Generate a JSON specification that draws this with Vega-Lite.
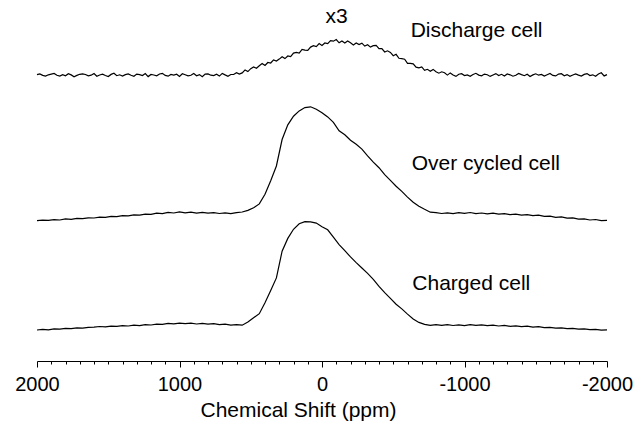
{
"$schema": "https://vega.github.io/schema/vega-lite/v6.json",
"width": 570, "height": 361,
"autosize": {"type": "none"},
"padding": {"left": 37, "top": 0, "right": 27, "bottom": 64},
"background": "white",
"config": {"view": {"stroke": null}, "font": "Liberation Sans"},
"layer": [
{
"data": {"values": [
{"cell":"D","ppm":2000,"v":286.3},{"cell":"D","ppm":1980,"v":287.1},{"cell":"D","ppm":1960,"v":285.6},{"cell":"D","ppm":1940,"v":284.9},{"cell":"D","ppm":1920,"v":286.2},{"cell":"D","ppm":1900,"v":286.9},{"cell":"D","ppm":1880,"v":287.6},{"cell":"D","ppm":1860,"v":285.7},{"cell":"D","ppm":1840,"v":284.9},{"cell":"D","ppm":1820,"v":286.4},
{"cell":"D","ppm":1800,"v":285.2},{"cell":"D","ppm":1780,"v":287.3},{"cell":"D","ppm":1760,"v":286.1},{"cell":"D","ppm":1740,"v":284.3},{"cell":"D","ppm":1720,"v":285.6},{"cell":"D","ppm":1700,"v":286.7},{"cell":"D","ppm":1680,"v":287.2},{"cell":"D","ppm":1660,"v":286.5},{"cell":"D","ppm":1640,"v":285.1},{"cell":"D","ppm":1620,"v":285.8},
{"cell":"D","ppm":1600,"v":287.5},{"cell":"D","ppm":1580,"v":284.8},{"cell":"D","ppm":1560,"v":286.0},{"cell":"D","ppm":1540,"v":286.8},{"cell":"D","ppm":1520,"v":285.5},{"cell":"D","ppm":1500,"v":284.5},{"cell":"D","ppm":1480,"v":286.6},{"cell":"D","ppm":1460,"v":287.8},{"cell":"D","ppm":1440,"v":285.3},{"cell":"D","ppm":1420,"v":286.2},
{"cell":"D","ppm":1400,"v":285.0},{"cell":"D","ppm":1380,"v":286.4},{"cell":"D","ppm":1360,"v":287.1},{"cell":"D","ppm":1340,"v":285.7},{"cell":"D","ppm":1320,"v":284.7},{"cell":"D","ppm":1300,"v":286.9},{"cell":"D","ppm":1280,"v":286.3},{"cell":"D","ppm":1260,"v":285.4},{"cell":"D","ppm":1240,"v":287.4},{"cell":"D","ppm":1220,"v":284.4},
{"cell":"D","ppm":1200,"v":286.5},{"cell":"D","ppm":1180,"v":286.0},{"cell":"D","ppm":1160,"v":285.2},{"cell":"D","ppm":1140,"v":287.0},{"cell":"D","ppm":1120,"v":287.7},{"cell":"D","ppm":1100,"v":285.6},{"cell":"D","ppm":1080,"v":284.8},{"cell":"D","ppm":1060,"v":286.6},{"cell":"D","ppm":1040,"v":285.9},{"cell":"D","ppm":1020,"v":286.8},
{"cell":"D","ppm":1000,"v":284.6},{"cell":"D","ppm":980,"v":287.2},{"cell":"D","ppm":960,"v":286.2},{"cell":"D","ppm":940,"v":285.1},{"cell":"D","ppm":920,"v":285.7},{"cell":"D","ppm":900,"v":287.5},{"cell":"D","ppm":880,"v":285.3},{"cell":"D","ppm":860,"v":286.4},{"cell":"D","ppm":840,"v":284.2},{"cell":"D","ppm":820,"v":286.9},
{"cell":"D","ppm":800,"v":287.1},{"cell":"D","ppm":780,"v":285.8},{"cell":"D","ppm":760,"v":285.4},{"cell":"D","ppm":740,"v":286.7},{"cell":"D","ppm":720,"v":284.9},{"cell":"D","ppm":700,"v":287.6},{"cell":"D","ppm":680,"v":286.1},{"cell":"D","ppm":660,"v":284.7},{"cell":"D","ppm":640,"v":286.5},{"cell":"D","ppm":620,"v":286.5},
{"cell":"D","ppm":600,"v":288.3},{"cell":"D","ppm":580,"v":286.9},{"cell":"D","ppm":560,"v":288.1},{"cell":"D","ppm":540,"v":291.1},{"cell":"D","ppm":520,"v":289.4},{"cell":"D","ppm":500,"v":292.3},{"cell":"D","ppm":480,"v":294.0},{"cell":"D","ppm":460,"v":292.7},{"cell":"D","ppm":440,"v":295.3},{"cell":"D","ppm":420,"v":297.4},
{"cell":"D","ppm":400,"v":295.5},{"cell":"D","ppm":380,"v":298.5},{"cell":"D","ppm":360,"v":298.0},{"cell":"D","ppm":340,"v":301.1},{"cell":"D","ppm":320,"v":299.9},{"cell":"D","ppm":300,"v":301.9},{"cell":"D","ppm":280,"v":304.3},{"cell":"D","ppm":260,"v":302.4},{"cell":"D","ppm":240,"v":305.0},{"cell":"D","ppm":220,"v":304.3},
{"cell":"D","ppm":200,"v":307.9},{"cell":"D","ppm":180,"v":308.6},{"cell":"D","ppm":160,"v":308.0},{"cell":"D","ppm":140,"v":311.6},{"cell":"D","ppm":120,"v":310.8},{"cell":"D","ppm":100,"v":310.6},{"cell":"D","ppm":80,"v":313.9},{"cell":"D","ppm":60,"v":315.3},{"cell":"D","ppm":40,"v":314.4},{"cell":"D","ppm":20,"v":317.5},
{"cell":"D","ppm":0,"v":315.6},{"cell":"D","ppm":-20,"v":318.0},{"cell":"D","ppm":-40,"v":317.3},{"cell":"D","ppm":-60,"v":320.4},{"cell":"D","ppm":-80,"v":319.8},{"cell":"D","ppm":-100,"v":321.4},{"cell":"D","ppm":-120,"v":318.2},{"cell":"D","ppm":-140,"v":320.0},{"cell":"D","ppm":-160,"v":317.9},{"cell":"D","ppm":-180,"v":320.0},
{"cell":"D","ppm":-200,"v":318.2},{"cell":"D","ppm":-220,"v":316.0},{"cell":"D","ppm":-240,"v":318.1},{"cell":"D","ppm":-260,"v":316.4},{"cell":"D","ppm":-280,"v":317.8},{"cell":"D","ppm":-300,"v":314.9},{"cell":"D","ppm":-320,"v":316.2},{"cell":"D","ppm":-340,"v":313.9},{"cell":"D","ppm":-360,"v":315.3},{"cell":"D","ppm":-380,"v":315.6},
{"cell":"D","ppm":-400,"v":312.4},{"cell":"D","ppm":-420,"v":312.3},{"cell":"D","ppm":-440,"v":309.0},{"cell":"D","ppm":-460,"v":310.2},{"cell":"D","ppm":-480,"v":308.6},{"cell":"D","ppm":-500,"v":305.3},{"cell":"D","ppm":-520,"v":306.7},{"cell":"D","ppm":-540,"v":302.7},{"cell":"D","ppm":-560,"v":302.4},{"cell":"D","ppm":-580,"v":301.8},
{"cell":"D","ppm":-600,"v":297.6},{"cell":"D","ppm":-620,"v":297.7},{"cell":"D","ppm":-640,"v":297.1},{"cell":"D","ppm":-660,"v":293.8},{"cell":"D","ppm":-680,"v":293.1},{"cell":"D","ppm":-700,"v":294.1},{"cell":"D","ppm":-720,"v":290.6},{"cell":"D","ppm":-740,"v":291.7},{"cell":"D","ppm":-760,"v":289.8},{"cell":"D","ppm":-780,"v":291.6},
{"cell":"D","ppm":-800,"v":289.2},{"cell":"D","ppm":-820,"v":287.8},{"cell":"D","ppm":-840,"v":289.2},{"cell":"D","ppm":-860,"v":288.2},{"cell":"D","ppm":-880,"v":285.9},{"cell":"D","ppm":-900,"v":288.1},{"cell":"D","ppm":-920,"v":286.0},{"cell":"D","ppm":-940,"v":284.6},{"cell":"D","ppm":-960,"v":286.8},{"cell":"D","ppm":-980,"v":287.3},
{"cell":"D","ppm":-1000,"v":285.4},{"cell":"D","ppm":-1020,"v":286.1},{"cell":"D","ppm":-1040,"v":284.7},{"cell":"D","ppm":-1060,"v":286.5},{"cell":"D","ppm":-1080,"v":287.7},{"cell":"D","ppm":-1100,"v":285.9},{"cell":"D","ppm":-1120,"v":285.2},{"cell":"D","ppm":-1140,"v":286.9},{"cell":"D","ppm":-1160,"v":286.3},{"cell":"D","ppm":-1180,"v":284.6},
{"cell":"D","ppm":-1200,"v":286.0},{"cell":"D","ppm":-1220,"v":287.4},{"cell":"D","ppm":-1240,"v":285.5},{"cell":"D","ppm":-1260,"v":286.7},{"cell":"D","ppm":-1280,"v":285.0},{"cell":"D","ppm":-1300,"v":287.0},{"cell":"D","ppm":-1320,"v":286.2},{"cell":"D","ppm":-1340,"v":284.8},{"cell":"D","ppm":-1360,"v":285.7},{"cell":"D","ppm":-1380,"v":287.6},
{"cell":"D","ppm":-1400,"v":286.4},{"cell":"D","ppm":-1420,"v":285.3},{"cell":"D","ppm":-1440,"v":286.8},{"cell":"D","ppm":-1460,"v":284.5},{"cell":"D","ppm":-1480,"v":286.1},{"cell":"D","ppm":-1500,"v":287.2},{"cell":"D","ppm":-1520,"v":285.8},{"cell":"D","ppm":-1540,"v":286.6},{"cell":"D","ppm":-1560,"v":284.9},{"cell":"D","ppm":-1580,"v":286.3},
{"cell":"D","ppm":-1600,"v":287.5},{"cell":"D","ppm":-1620,"v":285.6},{"cell":"D","ppm":-1640,"v":285.1},{"cell":"D","ppm":-1660,"v":286.9},{"cell":"D","ppm":-1680,"v":287.3},{"cell":"D","ppm":-1700,"v":285.2},{"cell":"D","ppm":-1720,"v":286.4},{"cell":"D","ppm":-1740,"v":284.7},{"cell":"D","ppm":-1760,"v":286.0},{"cell":"D","ppm":-1780,"v":287.1},
{"cell":"D","ppm":-1800,"v":285.9},{"cell":"D","ppm":-1820,"v":285.0},{"cell":"D","ppm":-1840,"v":286.6},{"cell":"D","ppm":-1860,"v":287.4},{"cell":"D","ppm":-1880,"v":285.4},{"cell":"D","ppm":-1900,"v":286.2},{"cell":"D","ppm":-1920,"v":284.8},{"cell":"D","ppm":-1940,"v":287.0},{"cell":"D","ppm":-1960,"v":288.2},{"cell":"D","ppm":-1980,"v":285.1},{"cell":"D","ppm":-2000,"v":286.4},
{"cell":"O","ppm":2000,"v":140.3},{"cell":"O","ppm":1960,"v":140.9},{"cell":"O","ppm":1920,"v":140.6},{"cell":"O","ppm":1880,"v":141.4},{"cell":"O","ppm":1840,"v":141.0},{"cell":"O","ppm":1800,"v":142.1},{"cell":"O","ppm":1760,"v":141.7},{"cell":"O","ppm":1720,"v":142.6},{"cell":"O","ppm":1680,"v":142.3},{"cell":"O","ppm":1640,"v":143.2},
{"cell":"O","ppm":1600,"v":143.0},{"cell":"O","ppm":1560,"v":143.9},{"cell":"O","ppm":1520,"v":143.6},{"cell":"O","ppm":1480,"v":144.7},{"cell":"O","ppm":1440,"v":144.3},{"cell":"O","ppm":1400,"v":145.4},{"cell":"O","ppm":1360,"v":145.2},{"cell":"O","ppm":1320,"v":146.1},{"cell":"O","ppm":1280,"v":145.8},{"cell":"O","ppm":1240,"v":146.9},
{"cell":"O","ppm":1200,"v":146.6},{"cell":"O","ppm":1160,"v":147.8},{"cell":"O","ppm":1120,"v":147.4},{"cell":"O","ppm":1080,"v":148.6},{"cell":"O","ppm":1040,"v":148.0},{"cell":"O","ppm":1000,"v":149.1},{"cell":"O","ppm":960,"v":148.2},{"cell":"O","ppm":920,"v":148.9},{"cell":"O","ppm":880,"v":147.8},{"cell":"O","ppm":840,"v":148.7},
{"cell":"O","ppm":800,"v":147.9},{"cell":"O","ppm":760,"v":148.4},{"cell":"O","ppm":720,"v":147.5},{"cell":"O","ppm":680,"v":148.2},{"cell":"O","ppm":640,"v":147.4},{"cell":"O","ppm":600,"v":148.3},{"cell":"O","ppm":560,"v":149.0},{"cell":"O","ppm":520,"v":150.6},{"cell":"O","ppm":480,"v":153.2},{"cell":"O","ppm":440,"v":157.1},
{"cell":"O","ppm":400,"v":166.8},{"cell":"O","ppm":360,"v":180.2},{"cell":"O","ppm":320,"v":195.0},{"cell":"O","ppm":280,"v":221.5},{"cell":"O","ppm":240,"v":236.2},{"cell":"O","ppm":200,"v":244.8},{"cell":"O","ppm":160,"v":250.1},{"cell":"O","ppm":120,"v":253.4},{"cell":"O","ppm":80,"v":254.2},{"cell":"O","ppm":40,"v":251.7},
{"cell":"O","ppm":0,"v":248.3},{"cell":"O","ppm":-40,"v":244.1},{"cell":"O","ppm":-80,"v":238.6},{"cell":"O","ppm":-120,"v":230.2},{"cell":"O","ppm":-160,"v":226.3},{"cell":"O","ppm":-200,"v":220.8},{"cell":"O","ppm":-240,"v":216.7},{"cell":"O","ppm":-280,"v":211.9},{"cell":"O","ppm":-320,"v":205.2},{"cell":"O","ppm":-360,"v":198.8},
{"cell":"O","ppm":-400,"v":193.3},{"cell":"O","ppm":-440,"v":186.4},{"cell":"O","ppm":-480,"v":180.7},{"cell":"O","ppm":-520,"v":174.8},{"cell":"O","ppm":-560,"v":169.6},{"cell":"O","ppm":-600,"v":163.9},{"cell":"O","ppm":-640,"v":158.7},{"cell":"O","ppm":-680,"v":154.8},{"cell":"O","ppm":-720,"v":151.7},{"cell":"O","ppm":-760,"v":148.8},
{"cell":"O","ppm":-800,"v":148.3},{"cell":"O","ppm":-840,"v":147.5},{"cell":"O","ppm":-880,"v":148.2},{"cell":"O","ppm":-920,"v":147.4},{"cell":"O","ppm":-960,"v":148.3},{"cell":"O","ppm":-1000,"v":147.6},{"cell":"O","ppm":-1040,"v":148.5},{"cell":"O","ppm":-1080,"v":147.3},{"cell":"O","ppm":-1120,"v":148.0},{"cell":"O","ppm":-1160,"v":147.2},
{"cell":"O","ppm":-1200,"v":147.9},{"cell":"O","ppm":-1240,"v":146.8},{"cell":"O","ppm":-1280,"v":147.4},{"cell":"O","ppm":-1320,"v":146.3},{"cell":"O","ppm":-1360,"v":146.9},{"cell":"O","ppm":-1400,"v":145.8},{"cell":"O","ppm":-1440,"v":146.4},{"cell":"O","ppm":-1480,"v":145.3},{"cell":"O","ppm":-1520,"v":145.9},{"cell":"O","ppm":-1560,"v":144.6},
{"cell":"O","ppm":-1600,"v":144.9},{"cell":"O","ppm":-1640,"v":143.7},{"cell":"O","ppm":-1680,"v":144.2},{"cell":"O","ppm":-1720,"v":142.9},{"cell":"O","ppm":-1760,"v":143.1},{"cell":"O","ppm":-1800,"v":141.9},{"cell":"O","ppm":-1840,"v":142.2},{"cell":"O","ppm":-1880,"v":141.0},{"cell":"O","ppm":-1920,"v":141.5},{"cell":"O","ppm":-1960,"v":140.3},{"cell":"O","ppm":-2000,"v":140.6},
{"cell":"C","ppm":2000,"v":31.0},{"cell":"C","ppm":1960,"v":31.6},{"cell":"C","ppm":1920,"v":31.2},{"cell":"C","ppm":1880,"v":32.1},{"cell":"C","ppm":1840,"v":31.8},{"cell":"C","ppm":1800,"v":32.6},{"cell":"C","ppm":1760,"v":32.3},{"cell":"C","ppm":1720,"v":33.1},{"cell":"C","ppm":1680,"v":32.8},{"cell":"C","ppm":1640,"v":33.6},
{"cell":"C","ppm":1600,"v":33.9},{"cell":"C","ppm":1560,"v":34.5},{"cell":"C","ppm":1520,"v":34.1},{"cell":"C","ppm":1480,"v":34.9},{"cell":"C","ppm":1440,"v":34.6},{"cell":"C","ppm":1400,"v":35.3},{"cell":"C","ppm":1360,"v":35.0},{"cell":"C","ppm":1320,"v":35.8},{"cell":"C","ppm":1280,"v":35.4},{"cell":"C","ppm":1240,"v":36.3},
{"cell":"C","ppm":1200,"v":36.0},{"cell":"C","ppm":1160,"v":36.9},{"cell":"C","ppm":1120,"v":36.6},{"cell":"C","ppm":1080,"v":37.6},{"cell":"C","ppm":1040,"v":37.1},{"cell":"C","ppm":1000,"v":37.9},{"cell":"C","ppm":960,"v":37.3},{"cell":"C","ppm":920,"v":37.8},{"cell":"C","ppm":880,"v":37.0},{"cell":"C","ppm":840,"v":37.6},
{"cell":"C","ppm":800,"v":36.9},{"cell":"C","ppm":760,"v":37.3},{"cell":"C","ppm":720,"v":36.4},{"cell":"C","ppm":680,"v":36.8},{"cell":"C","ppm":640,"v":35.9},{"cell":"C","ppm":600,"v":36.4},{"cell":"C","ppm":560,"v":35.8},{"cell":"C","ppm":520,"v":38.9},{"cell":"C","ppm":480,"v":43.2},{"cell":"C","ppm":440,"v":47.3},
{"cell":"C","ppm":400,"v":58.2},{"cell":"C","ppm":360,"v":70.6},{"cell":"C","ppm":320,"v":83.1},{"cell":"C","ppm":280,"v":109.8},{"cell":"C","ppm":240,"v":122.6},{"cell":"C","ppm":200,"v":131.7},{"cell":"C","ppm":160,"v":137.2},{"cell":"C","ppm":120,"v":139.4},{"cell":"C","ppm":80,"v":139.1},{"cell":"C","ppm":40,"v":137.9},
{"cell":"C","ppm":0,"v":134.3},{"cell":"C","ppm":-40,"v":131.2},{"cell":"C","ppm":-80,"v":123.8},{"cell":"C","ppm":-120,"v":116.4},{"cell":"C","ppm":-160,"v":110.3},{"cell":"C","ppm":-200,"v":104.1},{"cell":"C","ppm":-240,"v":98.4},{"cell":"C","ppm":-280,"v":93.0},{"cell":"C","ppm":-320,"v":87.6},{"cell":"C","ppm":-360,"v":81.7},
{"cell":"C","ppm":-400,"v":74.6},{"cell":"C","ppm":-440,"v":68.3},{"cell":"C","ppm":-480,"v":62.6},{"cell":"C","ppm":-520,"v":56.8},{"cell":"C","ppm":-560,"v":52.1},{"cell":"C","ppm":-600,"v":46.9},{"cell":"C","ppm":-640,"v":42.1},{"cell":"C","ppm":-680,"v":38.6},{"cell":"C","ppm":-720,"v":36.6},{"cell":"C","ppm":-760,"v":35.7},
{"cell":"C","ppm":-800,"v":36.4},{"cell":"C","ppm":-840,"v":35.6},{"cell":"C","ppm":-880,"v":36.3},{"cell":"C","ppm":-920,"v":35.5},{"cell":"C","ppm":-960,"v":36.2},{"cell":"C","ppm":-1000,"v":35.4},{"cell":"C","ppm":-1040,"v":36.3},{"cell":"C","ppm":-1080,"v":35.6},{"cell":"C","ppm":-1120,"v":36.1},{"cell":"C","ppm":-1160,"v":35.3},
{"cell":"C","ppm":-1200,"v":35.9},{"cell":"C","ppm":-1240,"v":35.0},{"cell":"C","ppm":-1280,"v":35.6},{"cell":"C","ppm":-1320,"v":34.7},{"cell":"C","ppm":-1360,"v":35.2},{"cell":"C","ppm":-1400,"v":34.4},{"cell":"C","ppm":-1440,"v":34.9},{"cell":"C","ppm":-1480,"v":33.8},{"cell":"C","ppm":-1520,"v":34.3},{"cell":"C","ppm":-1560,"v":33.4},
{"cell":"C","ppm":-1600,"v":33.7},{"cell":"C","ppm":-1640,"v":32.8},{"cell":"C","ppm":-1680,"v":33.2},{"cell":"C","ppm":-1720,"v":32.3},{"cell":"C","ppm":-1760,"v":32.7},{"cell":"C","ppm":-1800,"v":31.8},{"cell":"C","ppm":-1840,"v":32.2},{"cell":"C","ppm":-1880,"v":31.3},{"cell":"C","ppm":-1920,"v":31.7},{"cell":"C","ppm":-1960,"v":30.8},{"cell":"C","ppm":-2000,"v":31.2}
]},
"mark": {"type": "line", "color": "black", "strokeWidth": 1.2, "clip": false},
"encoding": {
  "x": {"field": "ppm", "type": "quantitative",
    "scale": {"domain": [2000, -2000], "nice": false, "zero": false},
    "axis": {
      "values": [2000,1900,1800,1700,1600,1500,1400,1300,1200,1100,1000,900,800,700,600,500,400,300,200,100,0,-100,-200,-300,-400,-500,-600,-700,-800,-900,-1000,-1100,-1200,-1300,-1400,-1500,-1600,-1700,-1800,-1900,-2000],
      "tickCount": 100,
      "labelExpr": "datum.value % 1000 === 0 ? '' + datum.value : ''",
      "tickSize": {"condition": {"test": "datum.value % 1000 === 0", "value": 6}, "value": 3},
      "tickColor": "black", "tickWidth": 1,
      "domainColor": "black", "domainWidth": 1,
      "grid": false,
      "labelFontSize": 20, "labelColor": "black", "labelFont": "Liberation Sans",
      "labelBaseline": "alphabetic", "labelPadding": 23,
      "labelOverlap": false, "labelFlush": false,
      "title": "Chemical Shift (ppm)",
      "titleFontSize": 21, "titleFontWeight": "normal", "titleColor": "black", "titleFont": "Liberation Sans",
      "titleX": 261, "titleY": 55, "titleBaseline": "alphabetic", "titleAnchor": "middle", "titleAlign": "center"
    }},
  "y": {"field": "v", "type": "quantitative", "scale": {"domain": [0, 361], "nice": false, "zero": false}, "axis": null},
  "detail": {"field": "cell"}
}
},
{
"data": {"values": [
  {"label": "x3", "ppm": -24, "v": 338},
  {"label": "Discharge cell", "ppm": -622, "v": 323.7},
  {"label": "Over cycled cell", "ppm": -630, "v": 191},
  {"label": "Charged cell", "ppm": -634, "v": 71}
]},
"mark": {"type": "text", "fontSize": 21, "align": "left", "baseline": "alphabetic", "color": "black", "font": "Liberation Sans"},
"encoding": {
  "x": {"field": "ppm", "type": "quantitative"},
  "y": {"field": "v", "type": "quantitative"},
  "text": {"field": "label"}
}
}
]
}
